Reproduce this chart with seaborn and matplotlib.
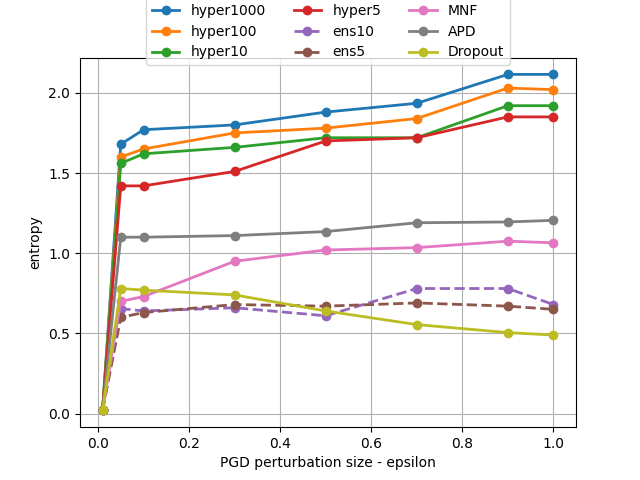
import matplotlib
matplotlib.use("Agg")
import matplotlib.pyplot as plt
import seaborn as sns
import pandas as pd

eps = [0.01, 0.05, 0.1, 0.3, 0.5, 0.7, 0.9, 1.0]
hyper1000 = [0.02, 1.68, 1.77, 1.80, 1.88, 1.935, 2.115, 2.115]
hyper100 = [0.02, 1.60, 1.65, 1.75, 1.78, 1.84, 2.03, 2.02]
hyper10 = [0.02, 1.56, 1.62, 1.66, 1.72, 1.72, 1.92, 1.92]
hyper5 = [0.02, 1.42, 1.42, 1.51, 1.70, 1.72, 1.85, 1.85]
ens10 = [0.02, 0.655, 0.64, 0.66, 0.61, 0.78, 0.78, 0.68]
ens5 = [0.02, 0.60, 0.63, 0.68, 0.67, 0.69, 0.67, 0.65]
mnf = [0.02, 0.70, 0.73, 0.95, 1.02, 1.035, 1.075, 1.065]
apd = [0.02, 1.10, 1.10, 1.11, 1.135, 1.19, 1.195, 1.205]
dropout = [0.02, 0.78, 0.77, 0.74, 0.64, 0.555, 0.505, 0.49]

series = [
    ("hyper1000", hyper1000, "-"),
    ("hyper100", hyper100, "-"),
    ("hyper10", hyper10, "-"),
    ("hyper5", hyper5, "-"),
    ("ens10", ens10, "--"),
    ("ens5", ens5, "--"),
    ("MNF", mnf, "-"),
    ("APD", apd, "-"),
    ("Dropout", dropout, "-"),
]
colors = ["#1f77b4", "#ff7f0e", "#2ca02c", "#d62728", "#9467bd",
          "#8c564b", "#e377c2", "#7f7f7f", "#bcbd22"]

fig, ax = plt.subplots(figsize=(6.4, 4.8), dpi=100)
for (name, vals, ls), c in zip(series, colors):
    df = pd.DataFrame({"eps": eps, "entropy": vals})
    sns.lineplot(data=df, x="eps", y="entropy", ax=ax, label=name, color=c,
                 marker="o", linestyle=ls, linewidth=2, markersize=6,
                 markeredgecolor=c, markeredgewidth=1)

ax.grid(True)
ax.set_xlabel("PGD perturbation size - epsilon")
ax.set_ylabel("entropy")
ax.legend(loc="upper center", bbox_to_anchor=(0.5, 1.18), ncol=3)
fig.savefig("out.png", dpi=100)
